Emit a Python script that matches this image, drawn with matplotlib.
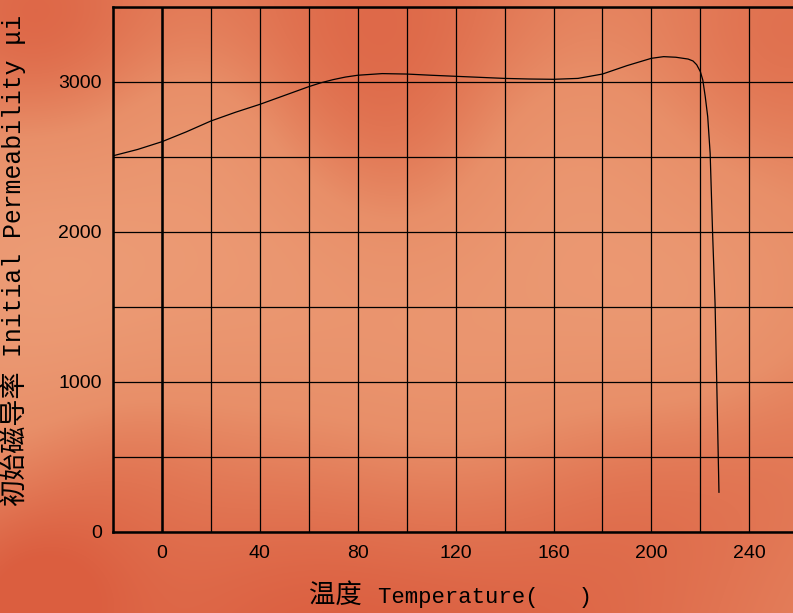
import numpy as np
import matplotlib.pyplot as plt
from matplotlib.ticker import MultipleLocator

# curve: temperature (C) vs initial permeability
temp = [-20, -10, 0, 10, 20, 30, 40, 50, 60, 65, 70, 75, 80, 90, 100, 110, 120,
        130, 140, 150, 160, 170, 180, 190, 200, 205, 210, 215, 217, 218.5, 220,
        221, 222, 223, 224, 225, 226, 226.7, 227.6]
perm = [2508, 2550, 2602, 2668, 2740, 2798, 2851, 2910, 2969, 2995, 3016, 3033,
        3045, 3056, 3053, 3045, 3038, 3031, 3024, 3020, 3018, 3024, 3053, 3109,
        3158, 3169, 3165, 3153, 3140, 3115, 3069, 3013, 2902, 2769, 2524, 1991,
        1527, 993, 265]

x_major = [0, 40, 80, 120, 160, 200, 240]
y_major = [0, 1000, 2000, 3000]

W, H = 793, 613
fig = plt.figure(figsize=(W / 100, H / 100), dpi=100)

# mottled orange background
bg = fig.add_axes([0, 0, 1, 1])
yy, xx = np.mgrid[0:H, 0:W]
base = np.array([0.91, 0.56, 0.41])
dark = np.array([0.86, 0.37, 0.25])
light = np.array([0.93, 0.62, 0.47])
blobs = [  # (x, y, radius, weight) > 0 darker, < 0 lighter
    (30, 20, 90, 0.8), (380, 30, 140, 0.8), (400, 180, 80, 0.3),
    (790, 30, 100, 0.6), (520, 650, 200, 0.8), (250, 650, 150, 0.6),
    (20, 600, 80, 0.9), (790, 430, 100, 0.35), (110, 450, 70, 0.3),
    (620, 470, 90, 0.25),
    (40, 280, 110, -0.8), (480, 330, 140, -0.75), (250, 250, 100, -0.5),
    (700, 320, 90, -0.55), (560, 150, 80, -0.35), (200, 120, 60, -0.3),
]
field = np.zeros((H, W))
for bx, by, r, w in blobs:
    field += w * np.exp(-((xx - bx) ** 2 + (yy - by) ** 2) / (2 * r ** 2))
img = np.empty((H, W, 3))
pos = np.clip(field, 0, 1)[..., None]
neg = np.clip(-field, 0, 1)[..., None]
img[:] = base
img = img * (1 - pos) + dark * pos
img = img * (1 - neg) + light * neg
bg.imshow(img, aspect="auto", extent=[0, W, H, 0])
bg.set_axis_off()

ax = fig.add_axes([113 / W, 81 / H, 1 - 113 / W + 0.002, 525 / H])
ax.patch.set_alpha(0)
ax.plot(temp, perm, color="black", lw=0.9)

ax.set_xlim(-20, 258.5)
ax.set_ylim(0, 3500)
ax.xaxis.set_major_locator(plt.FixedLocator(x_major))
ax.yaxis.set_major_locator(plt.FixedLocator(y_major))
ax.xaxis.set_minor_locator(MultipleLocator(20))
ax.yaxis.set_minor_locator(MultipleLocator(500))
ax.grid(which="both", color="black", lw=0.9)
ax.axvline(0, color="black", lw=1.8)
ax.tick_params(which="both", length=0, labelsize=14)
ax.tick_params(axis="x", pad=9)
ax.tick_params(axis="y", pad=8)
for s in ["left", "top", "bottom"]:
    ax.spines[s].set_linewidth(1.8)
ax.spines["right"].set_visible(False)
for lab in ax.get_xticklabels() + ax.get_yticklabels():
    lab.set_family("Liberation Sans")

cjk = "Noto Sans CJK SC"
mono = ["Liberation Mono", "DejaVu Sans Mono"]
# x label
fig.text(309 / W, 10 / H, "温度", fontsize=19, family=cjk, va="baseline")
fig.text(378 / W, 10 / H, "Temperature(   )", fontsize=16, family=mono,
         va="baseline")
# y label
fig.text(15 / W, 1 - 506 / H, "初始磁导率", rotation=90, fontsize=19.5,
         family=cjk, ha="center", va="bottom")
fig.text(14 / W, 1 - 357 / H, "Initial Permeability μi", rotation=90,
         fontsize=17.8, family=mono, ha="center", va="bottom")

fig.savefig("out.png", dpi=100)
